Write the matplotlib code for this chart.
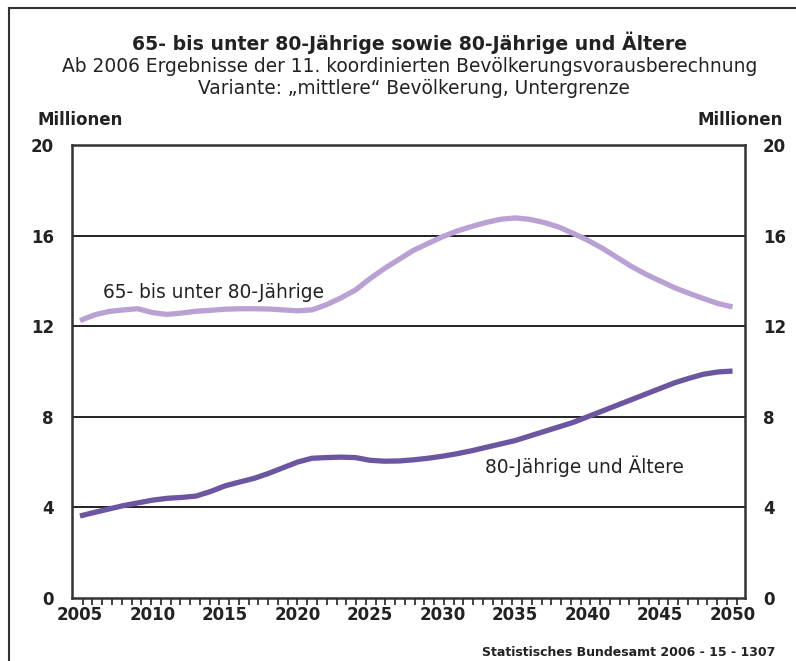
import numpy as np
import matplotlib.pyplot as plt
from matplotlib.lines import Line2D

# years of the projection
years = np.arange(2005, 2051)

# 65- bis unter 80-Jaehrige, Millionen
age65_80 = [12.25, 12.5, 12.65, 12.72, 12.77, 12.6, 12.52, 12.58, 12.66, 12.7,
            12.75, 12.77, 12.77, 12.76, 12.72, 12.68, 12.72, 12.95, 13.25, 13.6,
            14.1, 14.55, 14.95, 15.35, 15.65, 15.95, 16.2, 16.4, 16.58, 16.72,
            16.78, 16.72, 16.58, 16.38, 16.1, 15.8, 15.45, 15.05, 14.65, 14.3,
            14.0, 13.7, 13.45, 13.22, 13.0, 12.85]

# 80-Jaehrige und Aeltere, Millionen
age80plus = [3.62, 3.78, 3.93, 4.08, 4.2, 4.32, 4.4, 4.44, 4.5, 4.7,
             4.95, 5.12, 5.28, 5.5, 5.75, 6.0, 6.17, 6.2, 6.22, 6.2,
             6.08, 6.04, 6.05, 6.1, 6.17, 6.26, 6.37, 6.5, 6.65, 6.8,
             6.95, 7.15, 7.35, 7.55, 7.75, 8.0, 8.25, 8.5, 8.75, 9.0,
             9.25, 9.5, 9.7, 9.88, 9.98, 10.02]

year_labels = np.arange(2005, 2051, 5)
y_ticks = [0, 4, 8, 12, 16, 20]

title = "65- bis unter 80-Jährige sowie 80-Jährige und Ältere"
sub1 = "Ab 2006 Ergebnisse der 11. koordinierten Bevölkerungsvorausberechnung"
sub2 = "Variante: \u201emittlere\u201c Bevölkerung, Untergrenze"
source = "Statistisches Bundesamt 2006 - 15 - 1307"

plt.rcParams['font.family'] = ['DejaVu Sans']
txtcol = '#222222'

fig = plt.figure(figsize=(7.96, 6.61), dpi=100)
ax = fig.add_axes([72/796, 63/661, 673/796, 453/661])

ax.plot(years, age65_80, color='#b9a1d3', lw=3.8, solid_capstyle='butt', zorder=3)
ax.plot(years, age80plus, color='#6c56a2', lw=3.8, solid_capstyle='butt', zorder=3)

ax.set_xlim(2004.45, 2050.86)
ax.set_ylim(0, 20)

# grid lines
for v in y_ticks[1:-1]:
    ax.axhline(v, color='#111111', lw=1.3, zorder=1)

ax.set_xticks(year_labels)
ax.set_xticklabels([str(y) for y in year_labels], fontsize=12, fontweight='bold', color=txtcol)
ax.set_xticks(np.linspace(2005.19, 2050.29, 68), minor=True)
ax.tick_params(axis='x', which='major', length=0, pad=6)
ax.tick_params(axis='x', which='minor', length=5, width=1.3, color='#333333', direction='out')

ax.set_yticks(y_ticks)
ax.set_yticklabels([str(v) for v in y_ticks], fontsize=12, fontweight='bold', color=txtcol)
ax.tick_params(axis='y', which='both', length=0, pad=13, labelleft=True, labelright=True)

for s in ax.spines.values():
    s.set_color('#333333')
    s.set_linewidth(1.8)

ax.text(-0.052, 1.055, "Millionen", transform=ax.transAxes, fontsize=12,
        fontweight='bold', color=txtcol, ha='left', va='center')
ax.text(1.057, 1.055, "Millionen", transform=ax.transAxes, fontsize=12,
        fontweight='bold', color=txtcol, ha='right', va='center')

ax.text(2006.6, 13.5, "65- bis unter 80-Jährige", fontsize=13.4, color=txtcol,
        ha='left', va='center')
ax.text(2032.9, 5.8, "80-Jährige und Ältere", fontsize=13.4, color=txtcol,
        ha='left', va='center')

fig.text(0.515, 1 - 43/661, title, fontsize=13.6, fontweight='bold', color=txtcol,
         ha='center', va='center')
fig.text(0.515, 1 - 66/661, sub1, fontsize=13.4, color=txtcol, ha='center', va='center')
fig.text(0.52, 1 - 88/661, sub2, fontsize=13.4, color=txtcol, ha='center', va='center')
fig.text(482/796, 1 - 653/661, source, fontsize=9, fontweight='bold', color=txtcol,
         ha='left', va='center')

# outer frame (left and top edge)
fig.add_artist(Line2D([9/796, 9/796], [0, 1 - 8/661], transform=fig.transFigure,
                      color='#333333', lw=1.5))
fig.add_artist(Line2D([9/796, 1], [1 - 8/661, 1 - 8/661], transform=fig.transFigure,
                      color='#333333', lw=1.5))

fig.savefig("out.png", dpi=100, facecolor='white')
